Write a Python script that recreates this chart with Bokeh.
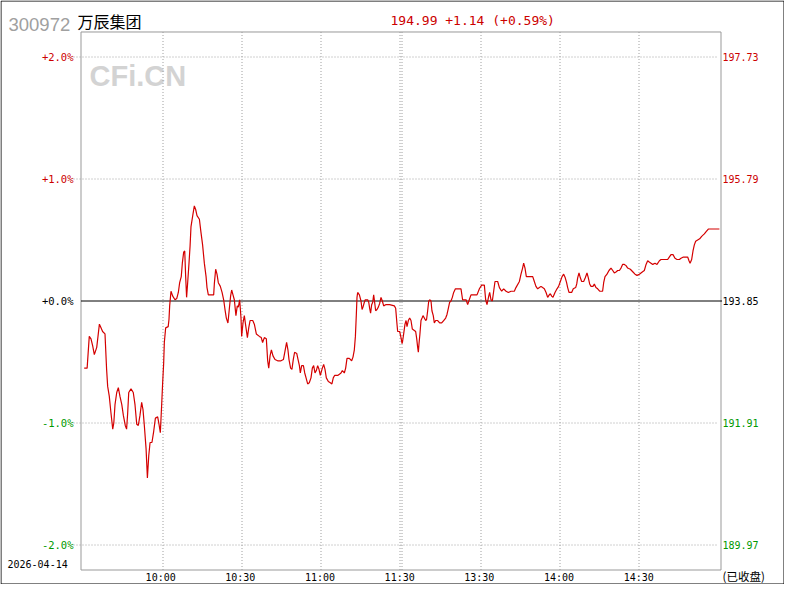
from bokeh.plotting import figure
from bokeh.models import Range1d
from bokeh.core.properties import value
from bokeh.embed import file_html
from bokeh.resources import INLINE

# ---------------- data ----------------
code = "300972"
name = "万辰集团"
trade_date = "2026-04-14"
status = "(已收盘)"
watermark = "CFi.CN"
prev_close = 193.85
last_price = 194.99
change = 1.14
change_pct = 0.59

pct_ticks = [2.0, 1.0, 0.0, -1.0, -2.0]
time_ticks = [30, 60, 90, 120, 150, 180, 210]
time_labels = ["10:00", "10:30", "11:00", "11:30", "13:30", "14:00", "14:30"]

# minutes after 09:30 (trading-time axis, 240 min) and % change vs previous close
minute = [1.2, 2.3, 3.1, 3.75, 4.4, 5.0, 5.9, 6.9, 7.5, 8.1, 9.0, 9.6, 10.0, 10.6, 11.25,
          11.9, 12.3, 12.75, 13.4, 14.0, 14.6, 15.3, 15.9, 16.6, 17.1, 17.5, 17.9, 18.75,
          19.6, 20.25, 20.9, 21.5, 22.1, 22.75, 23.25, 23.75, 24.4, 24.9, 25.4, 25.9, 26.6,
          27.25, 27.9, 28.75, 29.25, 29.75, 30.25, 30.6, 31.0, 31.25, 31.75, 32.7, 33.0,
          33.25, 33.75, 34.4, 35.25, 35.9, 36.5, 37.0, 37.6, 38.0, 38.5, 38.9, 39.25, 39.6,
          40.0, 40.5, 40.9, 41.25, 41.9, 42.5, 43.0, 43.5, 44.4, 45.0, 45.6, 46.25, 46.9,
          47.25, 47.75, 49.75, 50.0, 50.5, 51.0, 51.5, 52.25, 52.9, 53.5, 54.0, 54.5, 55.1,
          55.6, 56.1, 56.5, 57.0, 57.5, 58.1, 58.6, 59.0, 59.5, 60.0, 60.25, 60.75, 61.25,
          61.75, 62.4, 62.9, 63.4, 64.4, 65.0, 65.75, 66.9, 67.6, 68.1, 68.75, 69.5, 70.0,
          70.4, 70.9, 71.4, 72.0, 72.75, 73.75, 75.0, 75.9, 76.5, 77.1, 77.6, 78.0, 78.6,
          79.1, 79.6, 80.1, 80.9, 81.4, 81.9, 82.25, 82.75, 83.4, 83.9, 84.4, 85.0, 85.6,
          86.25, 86.75, 87.25, 87.75, 88.25, 88.75, 89.25, 89.75, 90.5, 91.0, 91.5, 92.0,
          92.75, 93.5, 94.1, 94.6, 95.1, 96.25, 96.9, 97.5, 98.0, 98.75, 99.25, 99.75, 100.6,
          101.5, 102.0, 102.5, 102.9, 103.25, 103.5, 103.75, 104.4, 105.0, 105.4, 105.75,
          106.25, 106.6, 107.5, 107.9, 108.25, 108.6, 109.0, 109.4, 109.75, 110.0, 110.5,
          111.0, 111.5, 112.0, 112.5, 113.0, 113.5, 114.25, 115.75, 117.5, 118.0, 118.5,
          118.75, 119.5, 120.0, 120.4, 120.6, 121.0, 121.5, 121.9, 122.25, 122.75, 123.25,
          123.75, 124.25, 125.5, 125.9, 126.25, 126.5, 126.75, 127.1, 127.5, 127.9, 128.25,
          128.75, 129.25, 129.6, 130.0, 130.4, 130.75, 131.25, 131.6, 132.1, 132.5, 133.0,
          133.75, 134.5, 135.25, 136.0, 136.75, 137.25, 137.75, 138.25, 138.75, 139.25,
          139.75, 140.4, 142.5, 143.1, 144.4, 145.0, 145.6, 146.25, 148.5, 149.4, 150.25,
          151.25, 151.75, 152.25, 152.9, 153.25, 153.75, 154.25, 154.75, 155.25, 156.25,
          156.9, 157.75, 158.5, 159.4, 160.25, 161.25, 162.5, 163.1, 164.4, 165.0, 165.6,
          166.0, 166.5, 167.0, 168.75, 169.4, 170.0, 170.6, 171.25, 171.9, 172.5, 173.1,
          173.75, 174.4, 175.0, 175.6, 176.0, 176.5, 177.0, 177.75, 178.5, 179.1, 179.75,
          180.4, 181.0, 181.6, 182.1, 182.5, 183.0, 184.0, 184.6, 185.5, 185.9, 186.25,
          186.75, 187.25, 187.75, 188.5, 189.1, 189.75, 190.25, 190.75, 191.25, 192.0, 192.5,
          193.1, 193.75, 194.5, 195.6, 196.0, 196.5, 197.25, 198.0, 198.75, 199.4, 200.0,
          200.75, 201.25, 201.9, 202.5, 203.1, 203.75, 204.4, 205.0, 206.0, 206.9, 207.75,
          208.5, 209.4, 210.0, 210.6, 211.25, 211.9, 212.5, 213.1, 213.75, 214.4, 215.25,
          216.0, 216.9, 217.5, 218.75, 220.0, 220.6, 221.25, 222.0, 222.75, 223.5, 224.4,
          225.0, 225.9, 227.5, 228.0, 228.4, 229.0, 229.5, 230.0, 230.5, 231.25, 232.0,
          232.75, 233.75, 234.5, 235.25, 239.4]

pct = [-0.55, -0.55, -0.29, -0.31, -0.37, -0.44, -0.38, -0.19, -0.22, -0.25, -0.27, -0.56,
       -0.70, -0.78, -0.92, -1.05, -1.00, -0.85, -0.75, -0.71, -0.78, -0.85, -0.94, -1.02,
       -1.05, -0.92, -0.75, -0.72, -0.75, -0.85, -1.01, -1.02, -0.94, -0.83, -0.89, -1.02,
       -1.21, -1.45, -1.27, -1.16, -1.16, -1.07, -0.96, -0.95, -1.01, -1.08, -0.85, -0.68,
       -0.51, -0.34, -0.22, -0.21, -0.15, -0.04, 0.08, 0.04, 0.01, 0.02, 0.07, 0.15, 0.20,
       0.31, 0.40, 0.41, 0.20, 0.03, 0.15, 0.31, 0.45, 0.61, 0.70, 0.78, 0.75, 0.70, 0.67,
       0.56, 0.46, 0.31, 0.20, 0.11, 0.05, 0.05, 0.14, 0.26, 0.22, 0.15, 0.12, 0.07, 0.01,
       -0.07, -0.14, -0.18, -0.07, 0.04, 0.09, 0.05, 0.01, -0.12, -0.04, -0.05, 0.01, -0.14,
       -0.29, -0.18, -0.12, -0.20, -0.30, -0.22, -0.16, -0.16, -0.19, -0.27, -0.29, -0.30,
       -0.34, -0.30, -0.31, -0.49, -0.55, -0.45, -0.40, -0.45, -0.48, -0.49, -0.49, -0.48,
       -0.41, -0.34, -0.40, -0.48, -0.55, -0.56, -0.48, -0.42, -0.43, -0.48, -0.53, -0.59,
       -0.53, -0.53, -0.59, -0.63, -0.68, -0.67, -0.63, -0.55, -0.53, -0.59, -0.57, -0.53,
       -0.56, -0.61, -0.55, -0.52, -0.56, -0.63, -0.66, -0.67, -0.68, -0.63, -0.61, -0.61,
       -0.60, -0.59, -0.57, -0.59, -0.55, -0.47, -0.47, -0.49, -0.46, -0.40, -0.29, -0.11,
       0.03, 0.07, 0.05, 0.00, -0.07, -0.05, -0.01, 0.01, 0.01, -0.01, -0.06, -0.10, -0.03,
       -0.01, 0.05, 0.01, -0.08, -0.07, -0.05, -0.02, 0.03, 0.00, -0.04, -0.03, -0.03,
       -0.04, -0.06, -0.19, -0.25, -0.25, -0.30, -0.35, -0.33, -0.27, -0.19, -0.16, -0.21,
       -0.16, -0.14, -0.16, -0.23, -0.25, -0.31, -0.38, -0.42, -0.35, -0.27, -0.16, -0.14,
       -0.12, -0.14, -0.16, -0.15, -0.08, 0.00, 0.01, 0.00, -0.08, -0.12, -0.18, -0.16,
       -0.16, -0.18, -0.18, -0.16, -0.14, -0.11, -0.06, -0.01, 0.00, 0.03, 0.07, 0.10, 0.10,
       0.01, 0.01, -0.03, 0.01, 0.05, 0.05, 0.10, 0.13, 0.13, 0.01, -0.03, 0.04, 0.07, 0.01,
       0.00, 0.08, 0.16, 0.16, 0.11, 0.08, 0.10, 0.08, 0.07, 0.08, 0.08, 0.11, 0.16, 0.22,
       0.27, 0.31, 0.27, 0.20, 0.20, 0.20, 0.16, 0.12, 0.10, 0.11, 0.12, 0.11, 0.10, 0.07,
       0.03, 0.05, 0.06, 0.04, 0.03, 0.07, 0.10, 0.12, 0.16, 0.20, 0.22, 0.19, 0.15, 0.11,
       0.07, 0.07, 0.10, 0.11, 0.14, 0.19, 0.23, 0.19, 0.16, 0.16, 0.19, 0.23, 0.19, 0.14,
       0.12, 0.12, 0.14, 0.11, 0.10, 0.08, 0.08, 0.15, 0.20, 0.22, 0.25, 0.27, 0.25, 0.23,
       0.24, 0.25, 0.25, 0.27, 0.30, 0.30, 0.29, 0.27, 0.26, 0.24, 0.22, 0.21, 0.22, 0.23,
       0.24, 0.25, 0.30, 0.33, 0.32, 0.31, 0.30, 0.31, 0.30, 0.33, 0.34, 0.34, 0.34, 0.36,
       0.38, 0.38, 0.35, 0.34, 0.34, 0.35, 0.36, 0.36, 0.33, 0.31, 0.34, 0.41, 0.46, 0.49,
       0.50, 0.51, 0.53, 0.55, 0.57, 0.59, 0.59]

# ---------------- layout / style ----------------
RED = "#cc0000"
LINE_RED = "#d40000"
GREEN = "#009900"
GRID = "#a0a0a0"
BOX = "#999999"

W, H = 784, 584
# plot box in canvas pixels: minutes 0..240 -> x 80.5..720.5, +/-2.205 % -> y 31.5..569.5
PX_L, PX_R = 80.5, 720.5
PX_Z = 300.5               # row of the 0 % line
PX_PER_PCT = 122.0
T_MAX = 240.0
Y_LIM = 2.205


def dx(px):
    return (px - PX_L) / (PX_R - PX_L) * T_MAX


def dy(py):
    return (PX_Z - py) / PX_PER_PCT


p = figure(width=W, height=H, output_backend="svg", toolbar_location=None,
           x_range=Range1d(dx(0), dx(W)), y_range=Range1d(dy(H), dy(0)),
           x_axis_location=None, y_axis_location=None, min_border=0)
p.background_fill_color = "white"
p.border_fill_color = "white"
p.outline_line_color = None
p.xgrid.visible = False
p.ygrid.visible = False

mono = value("DejaVu Sans Mono")
cjk = value("Noto Sans CJK SC")

# watermark (drawn first, underneath grid)
p.text(x=[dx(89)], y=[dy(75)], text=[watermark], text_font=value("Liberation Sans"),
       text_font_style=value("bold"), text_font_size=value("29px"), text_color="#d3d3d3",
       text_align=value("left"), text_baseline=value("alphabetic"))

# horizontal dotted grid lines at +/-1 %, +/-2 %
hgrid = [t for t in pct_ticks if t != 0]
p.segment(x0=[dx(73)] * len(hgrid), x1=[dx(718)] * len(hgrid), y0=hgrid, y1=hgrid,
          line_color=GRID, line_width=1, line_dash="1 2")

# vertical dotted grid lines (half-hour marks; doubled at the 11:30/13:00 break)
vgrid_px = [162.5, 241.5, 320.5, 399.5, 401.5, 480.5, 559.5, 638.5]
vgrid = [dx(v) for v in vgrid_px]
p.segment(x0=vgrid, x1=vgrid, y0=[-Y_LIM] * len(vgrid), y1=[Y_LIM] * len(vgrid),
          line_color=GRID, line_width=1, line_dash="1 2")

# plot box
p.quad(left=[0], right=[T_MAX], bottom=[-Y_LIM], top=[Y_LIM], fill_color=None,
       line_color=BOX, line_width=1)

# previous-close line
p.segment(x0=[0], x1=[dx(721.5)], y0=[0], y1=[0], line_color="black", line_width=1)

# price line
p.line(minute, pct, line_color=LINE_RED, line_width=1.2)


def tick_color(t):
    return RED if t > 0 else (GREEN if t < 0 else "black")


colors = [tick_color(t) for t in pct_ticks]
left_labels = [("+" if t >= 0 else "-") + f"{abs(t):.1f}%" for t in pct_ticks]
right_labels = [f"{prev_close * (1 + t / 100):.2f}" for t in pct_ticks]

p.text(x=[dx(73)] * len(pct_ticks), y=pct_ticks, text=left_labels, text_color=colors,
       text_font=mono, text_font_size=value("10.5px"), text_align=value("right"),
       text_baseline=value("middle"))
p.text(x=[dx(722)] * len(pct_ticks), y=pct_ticks, text=right_labels, text_color=colors,
       text_font=mono, text_font_size=value("10px"), text_align=value("left"),
       text_baseline=value("middle"))

# time labels along the bottom
time_x = [t * T_MAX / 241.0 for t in time_ticks]
p.text(x=time_x, y=[dy(577)] * len(time_ticks), text=time_labels, text_color="black",
       text_font=mono, text_font_size=value("10px"), text_align=value("center"),
       text_baseline=value("middle"))

# header
p.text(x=[dx(8)], y=[dy(23.5)], text=[code], text_font=value("Liberation Sans"),
       text_font_size=value("18.5px"), text_color="#a0a0a0",
       text_align=value("left"), text_baseline=value("alphabetic"))
p.text(x=[dx(77)], y=[dy(20.5)], text=[name], text_font=cjk,
       text_font_size=value("16px"), text_color="black",
       text_align=value("left"), text_baseline=value("alphabetic"))
p.text(x=[dx(390)], y=[dy(20)], text=[f"{last_price:.2f} {change:+.2f} ({change_pct:+.2f}%)"],
       text_font=mono, text_font_size=value("13px"), text_color=RED,
       text_align=value("left"), text_baseline=value("alphabetic"))

# footer
p.text(x=[dx(7)], y=[dy(563)], text=[trade_date], text_font=mono,
       text_font_size=value("10px"), text_color="black",
       text_align=value("left"), text_baseline=value("middle"))
p.text(x=[dx(722)], y=[dy(575.5)], text=[status], text_font=cjk,
       text_font_size=value("11.5px"), text_color="black",
       text_align=value("left"), text_baseline=value("middle"))

# outer black border of the picture
p.quad(left=[dx(0.5)], right=[dx(W - 0.5)], bottom=[dy(H - 0.5)], top=[dy(0.5)],
       fill_color=None, line_color="black", line_width=1)

open("out.html", "w").write(file_html(p, INLINE))
